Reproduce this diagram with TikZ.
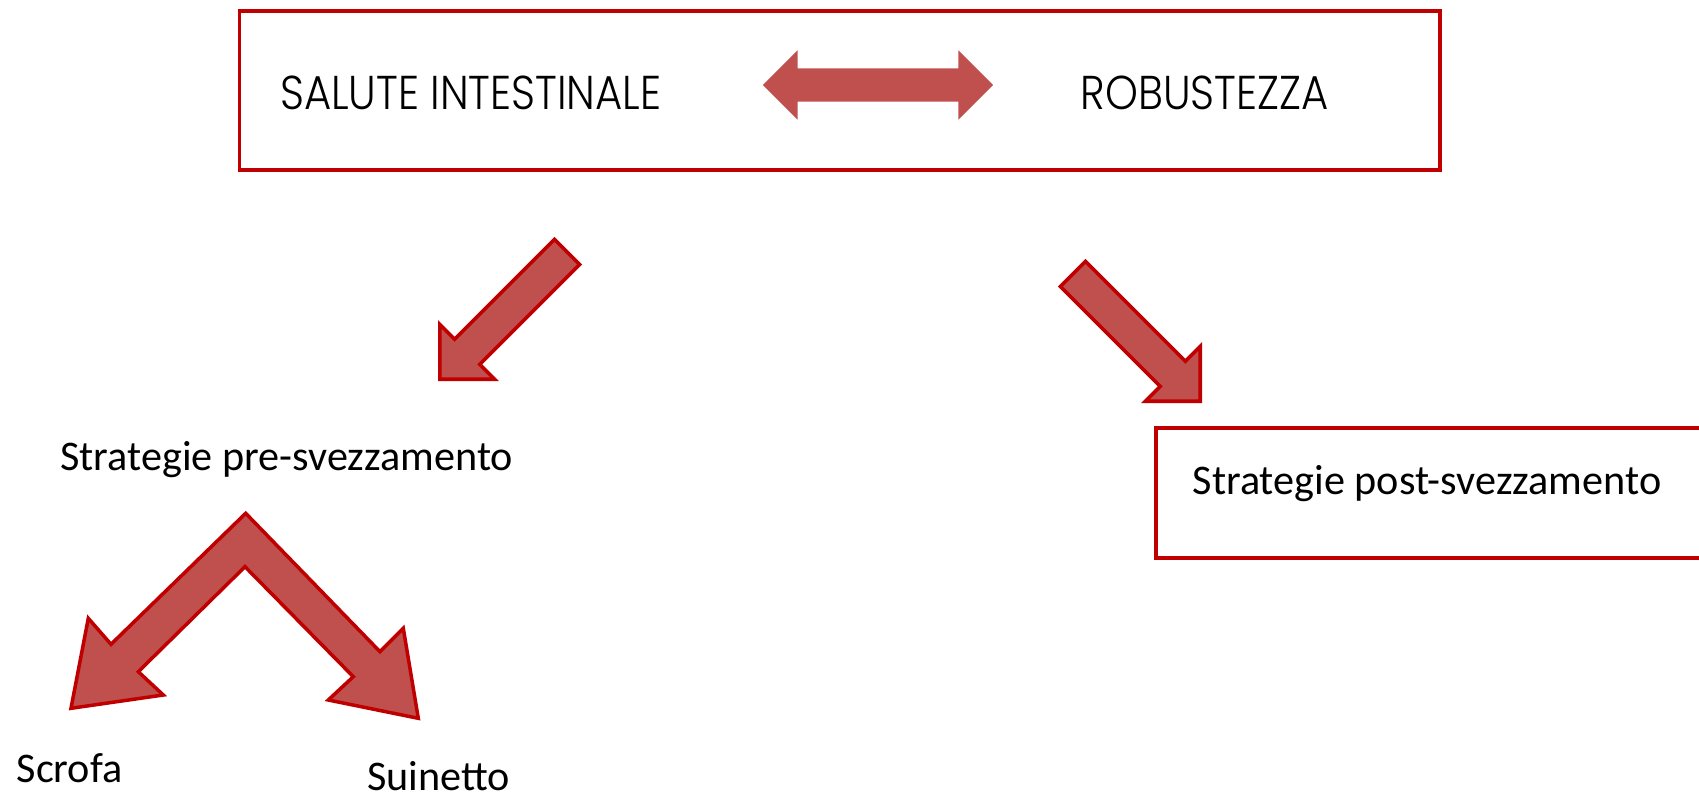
\documentclass[tikz,border=0pt]{standalone}
\usepackage{fontspec}
\setmainfont{Carlito}
\newfontfamily\titlefont[FakeStretch=0.88, UprightFont=* Light]{Poppins}
\usetikzlibrary{shapes.arrows}
\definecolor{boxred}{RGB}{192,0,0}
\definecolor{arrowred}{RGB}{192,80,77}
\begin{document}
\begin{tikzpicture}[x=0.01cm, y=-0.01cm,
      frame/.style = {
        rectangle, draw=boxred, line width=1pt, inner sep=0pt },
      title/.style = {
        inner sep=0pt, anchor=base west,
        font=\titlefont\fontsize{13.5}{16}\selectfont },
      txt/.style = {
        inner sep=0pt, anchor=base west, font=\fontsize{12}{14}\selectfont },
      fat/.style = {
        single arrow, draw=boxred, fill=arrowred, line width=1pt,
        inner xsep=0pt, inner ysep=0.16cm, minimum height=1.80cm,
        single arrow head extend=0.21cm, anchor=tip },
      both/.style = {
        double arrow, fill=arrowred, inner xsep=0pt, inner ysep=0.16cm,
        minimum height=2.30cm, double arrow head extend=0.18cm },
      fork/.style = { draw=boxred, fill=arrowred, line width=1pt }]
    \useasboundingbox (0,0) rectangle (1699,797);
    \clip (0,0) rectangle (1699,797);
    % top box
    \node [frame, minimum width=12.00cm, minimum height=1.59cm] (topbox) at (839.7,90.4) {};
    \node [title] (salute) at (279.5,109.4) {SALUTE INTESTINALE};
    \node [title] (robust) at (1080,109.4) {ROBUSTEZZA};
    \node [both] (link) at (878,85) {};
    % arrows down
    \node [fat, rotate=-135] (toPre) at (438,381) {};
    \node [fat, rotate=-45] (toPost) at (1202,403) {};
    \node [txt] (pre) at (59.6,470.2) {Strategie pre-svezzamento};
    \node [frame, anchor=north west, minimum width=6cm, minimum height=1.30cm] (postbox) at (1154,426) {};
    \node [txt] (post) at (1192,494) {Strategie post-svezzamento};
    % split arrow
    \draw[fork] (245.7,513.3) -- (111,644.3) -- (88.3,618.3) -- (71,708.3)
      -- (163.3,695) -- (138.3,671.7) -- (245,566.7) -- (353.3,676.7)
      -- (328.3,700) -- (418.3,718.3) -- (403.3,628.3) -- (380,651.7) -- cycle;
    \node [txt] (scrofa) at (16,782.7) {Scrofa};
    \node [txt] (suinetto) at (366.7,790) {Suinetto};
  \end{tikzpicture}
\end{document}
